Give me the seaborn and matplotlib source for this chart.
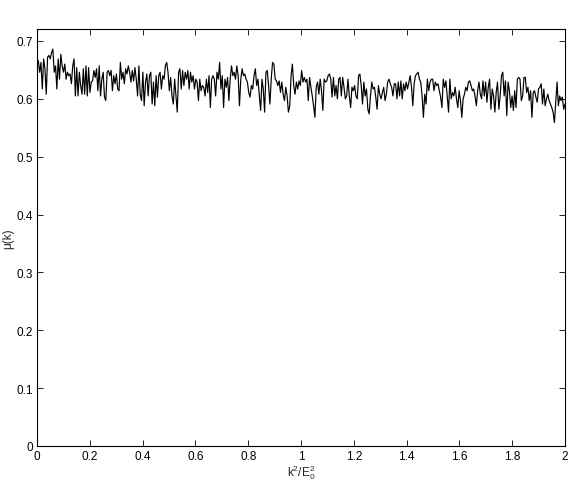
import numpy as np
import pandas as pd
import matplotlib
matplotlib.use("Agg")
import matplotlib.pyplot as plt
import seaborn as sns

# values, left to right
mu_seg1 = [0.657, 0.666, 0.646, 0.663, 0.617, 0.669, 0.652, 0.608, 0.672, 0.675, 0.669, 0.680, 0.686,
           0.646, 0.657, 0.617, 0.669, 0.634, 0.677, 0.657, 0.646, 0.660, 0.634, 0.646, 0.640, 0.643,
           0.626, 0.657, 0.669, 0.605, 0.654, 0.605, 0.646, 0.623, 0.608, 0.652, 0.608, 0.657, 0.605,
           0.654, 0.611, 0.629, 0.631, 0.649, 0.637, 0.652, 0.614, 0.657, 0.605, 0.634, 0.646, 0.603,
           0.597, 0.646, 0.649, 0.640, 0.649, 0.614, 0.640, 0.626, 0.643, 0.617, 0.614, 0.663, 0.634,
           0.646, 0.626]
mu_seg2 = [0.652, 0.643, 0.657, 0.646, 0.629, 0.649, 0.631, 0.654, 0.634, 0.605, 0.657, 0.608, 0.597,
           0.646, 0.588, 0.629, 0.643, 0.605, 0.640, 0.646, 0.591, 0.629, 0.588, 0.640, 0.603, 0.640,
           0.646, 0.617, 0.640, 0.634, 0.657, 0.663, 0.646, 0.614, 0.637, 0.605, 0.591, 0.634, 0.605,
           0.577, 0.646, 0.652, 0.617, 0.649, 0.623, 0.646, 0.634, 0.649, 0.617, 0.646, 0.629, 0.640,
           0.617, 0.634, 0.629, 0.597, 0.634, 0.614, 0.623, 0.620, 0.605, 0.634, 0.611, 0.640, 0.585,
           0.634, 0.640, 0.634]
mu_seg3 = [0.605, 0.646, 0.634, 0.663, 0.617, 0.640, 0.585, 0.634, 0.620, 0.637, 0.597, 0.634, 0.657,
           0.640, 0.646, 0.634, 0.657, 0.640, 0.588, 0.634, 0.652, 0.640, 0.643, 0.634, 0.629, 0.611,
           0.603, 0.623, 0.617, 0.640, 0.652, 0.623, 0.634, 0.605, 0.580, 0.634, 0.617, 0.577, 0.646,
           0.649, 0.623, 0.591, 0.634, 0.663, 0.660, 0.634, 0.631, 0.623, 0.631, 0.611, 0.629, 0.608,
           0.597, 0.620, 0.605, 0.577, 0.588, 0.640, 0.660, 0.623, 0.608, 0.629, 0.617, 0.631, 0.623,
           0.649, 0.629, 0.637]
mu_seg4 = [0.629, 0.634, 0.597, 0.637, 0.620, 0.605, 0.588, 0.568, 0.620, 0.629, 0.608, 0.634, 0.614,
           0.580, 0.634, 0.629, 0.631, 0.640, 0.643, 0.634, 0.603, 0.637, 0.605, 0.623, 0.600, 0.634,
           0.637, 0.605, 0.637, 0.620, 0.600, 0.605, 0.634, 0.605, 0.585, 0.620, 0.614, 0.623, 0.605,
           0.600, 0.640, 0.643, 0.623, 0.591, 0.629, 0.605, 0.617, 0.582, 0.574, 0.605, 0.629, 0.617,
           0.620, 0.603, 0.582, 0.623, 0.608, 0.600, 0.611, 0.620, 0.597, 0.608, 0.629, 0.634, 0.626,
           0.620, 0.605, 0.626]
mu_seg5 = [0.626, 0.600, 0.629, 0.605, 0.631, 0.600, 0.626, 0.614, 0.629, 0.617, 0.629, 0.640, 0.620,
           0.588, 0.626, 0.640, 0.643, 0.646, 0.634, 0.629, 0.605, 0.568, 0.608, 0.591, 0.634, 0.614,
           0.629, 0.634, 0.634, 0.614, 0.629, 0.623, 0.626, 0.614, 0.603, 0.585, 0.634, 0.620, 0.631,
           0.605, 0.577, 0.634, 0.600, 0.611, 0.605, 0.620, 0.600, 0.585, 0.614, 0.597, 0.568, 0.600,
           0.608, 0.620, 0.614, 0.629, 0.631, 0.623, 0.614, 0.617, 0.605, 0.588, 0.614, 0.629, 0.608,
           0.600, 0.631, 0.605]
mu_seg6 = [0.629, 0.594, 0.620, 0.634, 0.582, 0.617, 0.605, 0.577, 0.611, 0.629, 0.582, 0.605, 0.640,
           0.646, 0.605, 0.631, 0.571, 0.629, 0.614, 0.585, 0.605, 0.580, 0.614, 0.585, 0.634, 0.637,
           0.634, 0.597, 0.605, 0.637, 0.637, 0.611, 0.620, 0.597, 0.614, 0.568, 0.611, 0.614, 0.603,
           0.594, 0.617, 0.620, 0.626, 0.591, 0.617, 0.588, 0.600, 0.608, 0.597, 0.591, 0.585, 0.577,
           0.559, 0.594, 0.629, 0.588, 0.605, 0.597, 0.603, 0.582, 0.591]

mu = mu_seg1 + mu_seg2 + mu_seg3 + mu_seg4 + mu_seg5 + mu_seg6
x_start, x_end = 0.0, 2.0
xticks = [0, 0.2, 0.4, 0.6, 0.8, 1, 1.2, 1.4, 1.6, 1.8, 2]
xticklabels = ["0", "0.2", "0.4", "0.6", "0.8", "1", "1.2", "1.4", "1.6", "1.8", "2"]
yticks = [0, 0.1, 0.2, 0.3, 0.4, 0.5, 0.6, 0.7]
yticklabels = ["0", "0.1", "0.2", "0.3", "0.4", "0.5", "0.6", "0.7"]

k2 = np.linspace(x_start, x_end, len(mu))
df = pd.DataFrame({"k2": k2, "mu": mu})

sns.set_style("ticks")
plt.rcParams["font.family"] = ["Liberation Sans", "DejaVu Sans"]
plt.rcParams["mathtext.fontset"] = "custom"
plt.rcParams["mathtext.rm"] = "Liberation Sans"
plt.rcParams["mathtext.it"] = "Liberation Sans"

fig = plt.figure(figsize=(5.75, 4.85), dpi=100)
ax = fig.add_axes([37 / 575, 38 / 485, 528 / 575, 417 / 485])

sns.lineplot(data=df, x="k2", y="mu", color="black", linewidth=0.85, ax=ax,
             estimator=None, sort=False)

ax.set_xlim(0, 2)
ax.set_ylim(0, 0.7207)
ax.set_xticks(xticks)
ax.set_xticklabels(xticklabels)
ax.set_yticks(yticks)
ax.set_yticklabels(yticklabels)
ax.tick_params(direction="in", length=4, width=0.6, labelsize=8.5, pad=3,
               top=True, right=True, colors="black")
for s in ax.spines.values():
    s.set_linewidth(0.8)
    s.set_color("black")

ax.set_xlabel(r"$\mathregular{k^2/E_0^2}$", fontsize=8.5, labelpad=0)
ax.set_ylabel("μ(k)", fontsize=8.5)
ax.yaxis.set_label_coords(-0.044, 0.5)

fig.savefig("out.png", dpi=100)
